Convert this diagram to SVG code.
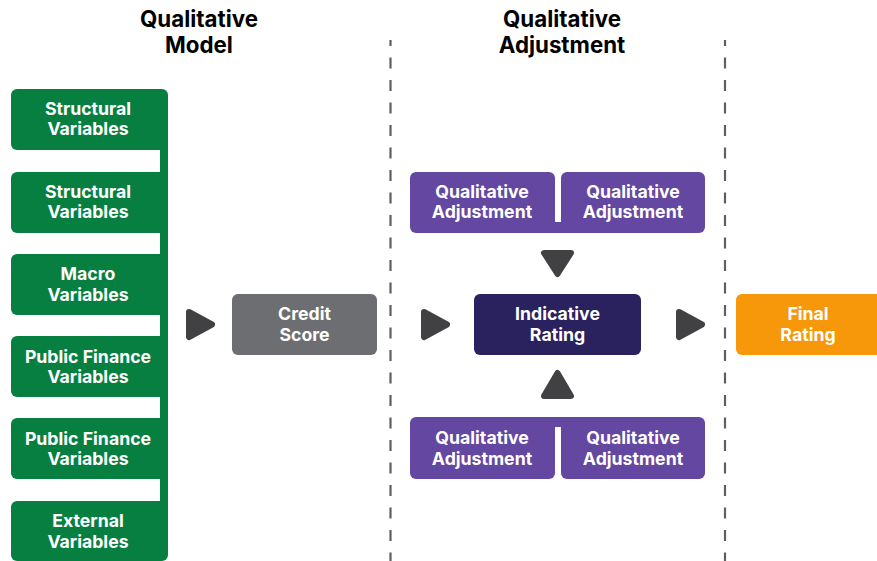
<svg xmlns="http://www.w3.org/2000/svg" width="877" height="561" viewBox="0 0 877 561">
  <style>
    .lbl { font-family: Inter, "Noto Sans", "Liberation Sans", sans-serif; font-weight: 700; font-size: 17.7px; fill: #ffffff; text-anchor: middle; }
    .title { font-family: Inter, "Noto Sans", "Liberation Sans", sans-serif; font-weight: 700; font-size: 22.3px; fill: #000000; text-anchor: middle; }
    .green { fill: #077f41; }
    .purple { fill: #6447a1; }
    .tri { fill: #414042; stroke: #414042; stroke-width: 6; stroke-linejoin: round; }
    .divider { stroke: #5f5f5f; stroke-width: 2.2; stroke-dasharray: 11 11.5; stroke-dashoffset: 5; fill: none; }
  </style>

  <rect width="877" height="561" fill="#ffffff"/>

  <!-- column headings -->
  <g id="heading-model">
    <text class="title" x="199" y="27">Qualitative</text>
    <text class="title" x="199" y="53">Model</text>
  </g>
  <g id="heading-adjustment">
    <text class="title" x="562" y="27">Qualitative</text>
    <text class="title" x="562" y="53">Adjustment</text>
  </g>

  <!-- section dividers -->
  <g id="dividers">
    <line class="divider" x1="390.5" y1="40" x2="390.5" y2="561"/>
    <line class="divider" x1="725" y1="40" x2="725" y2="561"/>
  </g>

  <!-- input variables, joined by a common spine -->
  <g id="variables-spine">
    <rect class="green" x="160" y="95" width="8" height="460"/>
  </g>
  <g id="var-structural-1">
    <rect class="green" x="11" y="89" width="157" height="61" rx="6"/>
    <text class="lbl" x="88" y="115">Structural</text>
    <text class="lbl" x="88" y="135">Variables</text>
  </g>
  <g id="var-structural-2">
    <rect class="green" x="11" y="172" width="157" height="61" rx="6"/>
    <text class="lbl" x="88" y="198">Structural</text>
    <text class="lbl" x="88" y="218">Variables</text>
  </g>
  <g id="var-macro">
    <rect class="green" x="11" y="254" width="157" height="61" rx="6"/>
    <text class="lbl" x="88" y="280">Macro</text>
    <text class="lbl" x="88" y="301">Variables</text>
  </g>
  <g id="var-public-finance-1">
    <rect class="green" x="11" y="336" width="157" height="61" rx="6"/>
    <text class="lbl" x="88" y="363">Public Finance</text>
    <text class="lbl" x="88" y="383">Variables</text>
  </g>
  <g id="var-public-finance-2">
    <rect class="green" x="11" y="418" width="157" height="61" rx="6"/>
    <text class="lbl" x="88" y="445">Public Finance</text>
    <text class="lbl" x="88" y="465">Variables</text>
  </g>
  <g id="var-external">
    <rect class="green" x="11" y="501" width="157" height="60" rx="6"/>
    <text class="lbl" x="88" y="527">External</text>
    <text class="lbl" x="88" y="548">Variables</text>
  </g>

  <!-- score and ratings -->
  <g id="credit-score">
    <rect x="232" y="294" width="145" height="61" rx="6" fill="#6d6e71"/>
    <text class="lbl" x="304.5" y="320">Credit</text>
    <text class="lbl" x="304.5" y="341">Score</text>
  </g>
  <g id="indicative-rating">
    <rect x="474" y="294" width="167" height="61" rx="6" fill="#29225f"/>
    <text class="lbl" x="557.5" y="320">Indicative</text>
    <text class="lbl" x="557.5" y="341">Rating</text>
  </g>
  <g id="final-rating">
    <rect x="736" y="294" width="146" height="61" rx="6" fill="#f7970a"/>
    <text class="lbl" x="808" y="320">Final</text>
    <text class="lbl" x="808" y="341">Rating</text>
  </g>

  <!-- adjustments above the indicative rating (joined at the bottom) -->
  <g id="adjustments-top">
    <rect class="purple" x="549" y="222" width="18" height="11"/>
    <g id="adj-top-left">
      <rect class="purple" x="410" y="172" width="145" height="61" rx="6"/>
      <text class="lbl" x="482" y="198">Qualitative</text>
      <text class="lbl" x="482" y="218">Adjustment</text>
    </g>
    <g id="adj-top-right">
      <rect class="purple" x="561" y="172" width="144" height="61" rx="6"/>
      <text class="lbl" x="633" y="198">Qualitative</text>
      <text class="lbl" x="633" y="218">Adjustment</text>
    </g>
  </g>

  <!-- adjustments below the indicative rating (joined at the top) -->
  <g id="adjustments-bottom">
    <rect class="purple" x="549" y="417" width="18" height="10"/>
    <g id="adj-bottom-left">
      <rect class="purple" x="410" y="417" width="145" height="62" rx="6"/>
      <text class="lbl" x="482" y="444">Qualitative</text>
      <text class="lbl" x="482" y="465">Adjustment</text>
    </g>
    <g id="adj-bottom-right">
      <rect class="purple" x="561" y="417" width="144" height="62" rx="6"/>
      <text class="lbl" x="633" y="444">Qualitative</text>
      <text class="lbl" x="633" y="465">Adjustment</text>
    </g>
  </g>

  <!-- flow arrows -->
  <g id="connectors">
    <polygon class="tri" points="189,312 212,324.5 189,337"/>
    <polygon class="tri" points="424,312 447,324.5 424,337"/>
    <polygon class="tri" points="679,312 702,324.5 679,337"/>
    <polygon class="tri" points="544,253 571,253 557.5,274"/>
    <polygon class="tri" points="557.5,373 571,396 544,396"/>
  </g>
</svg>
